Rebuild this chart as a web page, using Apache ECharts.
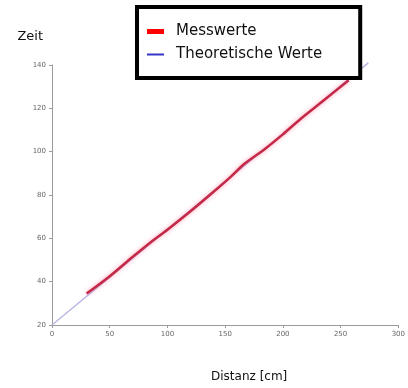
<!DOCTYPE html>
<html>
<head>
<meta charset="utf-8">
<script src="https://cdn.jsdelivr.net/npm/echarts@6/dist/echarts.min.js"></script>
<style>
  html, body { margin: 0; padding: 0; background: #ffffff; }
  #chart { width: 408px; height: 388px; }
</style>
</head>
<body>
<div id="chart"></div>
<script>
// Distance in cm, measured time values
const messDistanz = [30, 50, 70, 85, 100, 120, 140, 155, 167, 185, 200, 215, 235, 257];
const messZeit    = [34.5, 42.5, 51.5, 58, 64, 72.5, 81.5, 88.5, 94.5, 101.5, 108, 115, 123.5, 133];

// Theoretical line (start and end points)
const theoDistanz = [0, 274];
const theoZeit    = [20, 141];

const xTicks = { min: 0, max: 300, interval: 50 };
const yTicks = { min: 20, max: 140, interval: 20 };

const pairs = (xs, ys) => xs.map((x, i) => [x, ys[i]]);

const chart = echarts.init(document.getElementById('chart'), null, { renderer: 'canvas' });

const axisLine = { lineStyle: { color: '#9a9a9a', width: 1 } };
const axisLabel = { color: '#666', fontSize: 7, fontFamily: 'DejaVu Sans' };

chart.setOption({
  animation: false,
  backgroundColor: '#ffffff',
  grid: { left: 52, right: 6, top: 65, bottom: 62, containLabel: false },
  legend: {
    left: 137, top: 7,
    orient: 'vertical',
    backgroundColor: '#ffffff',
    borderColor: '#000000',
    borderWidth: 4,
    borderRadius: 0,
    padding: [16, 38, 15, 10],
    itemGap: 6,
    itemWidth: 17,
    itemHeight: 5,
    symbolKeepAspect: true,
    textStyle: { fontFamily: 'DejaVu Sans', fontSize: 15, color: '#111', lineHeight: 17, padding: [0, 0, 0, 7] },
    data: [
      { name: 'Messwerte', icon: 'rect', itemStyle: { color: '#ff0000' } },
      { name: 'Theoretische Werte', icon: 'path://M0,0 H17 V2 H0 Z', itemStyle: { color: '#3535c8' } }
    ]
  },
  xAxis: {
    type: 'value',
    min: xTicks.min, max: xTicks.max, interval: xTicks.interval,
    name: 'Distanz [cm]',
    nameLocation: 'middle',
    nameGap: 46,
    nameTextStyle: { fontFamily: 'DejaVu Sans', fontSize: 12, color: '#111', padding: [0, 0, 0, 48] },
    axisLine: axisLine,
    axisTick: { show: true, length: 3, lineStyle: { color: '#9a9a9a' } },
    axisLabel: Object.assign({ margin: 6 }, axisLabel),
    splitLine: { show: false }
  },
  yAxis: {
    type: 'value',
    min: yTicks.min, max: yTicks.max, interval: yTicks.interval,
    name: 'Zeit',
    nameLocation: 'end',
    nameGap: 22,
    nameTextStyle: { fontFamily: 'DejaVu Sans', fontSize: 13, color: '#111', align: 'right', padding: [0, 9, 0, 0] },
    axisLine: axisLine,
    axisTick: { show: true, length: 3, lineStyle: { color: '#9a9a9a' } },
    axisLabel: Object.assign({ margin: 6 }, axisLabel),
    splitLine: { show: false }
  },
  series: [
    {
      name: 'Theoretische Werte',
      type: 'line',
      symbol: 'none',
      clip: false,
      data: pairs(theoDistanz, theoZeit),
      lineStyle: { color: '#b8b8e6', width: 1.5 },
      itemStyle: { color: '#b8b8e6' },
      z: 2
    },
    {
      name: 'Messwerte',
      type: 'line',
      symbol: 'none',
      smooth: 0.3,
      data: pairs(messDistanz, messZeit),
      lineStyle: { color: '#c42a48', width: 2.5, shadowColor: 'rgba(255,90,130,0.6)', shadowBlur: 4 },
      itemStyle: { color: '#ff0000' },
      z: 3
    }
  ]
});
</script>
</body>
</html>
